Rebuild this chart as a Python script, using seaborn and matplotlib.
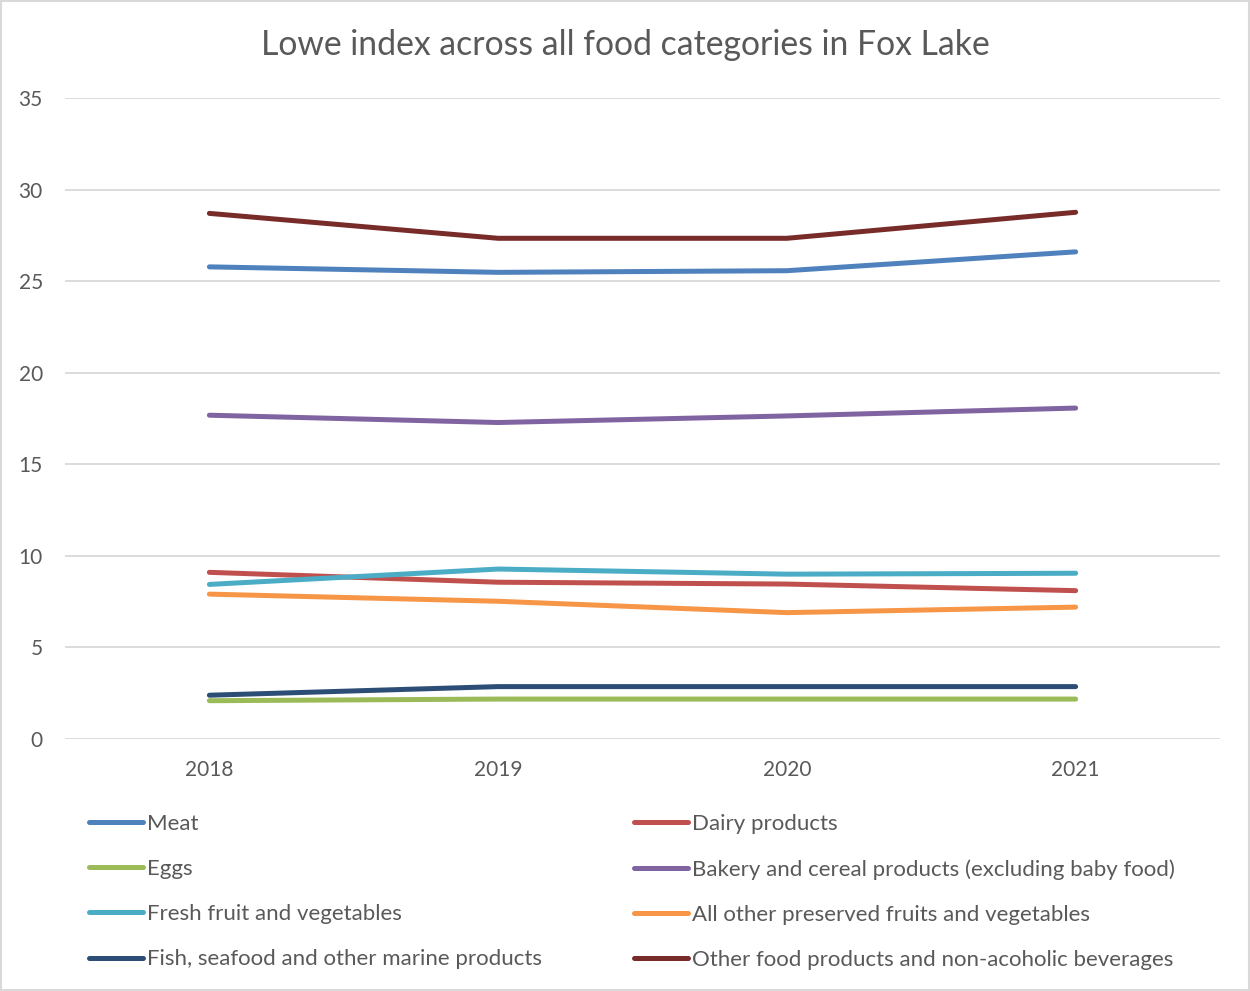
import matplotlib
matplotlib.use("Agg")
import matplotlib.pyplot as plt
from matplotlib.lines import Line2D
from matplotlib.patches import Rectangle
import seaborn as sns
import pandas as pd

years = ["2018", "2019", "2020", "2021"]
meat = [25.78, 25.48, 25.57, 26.60]
dairy = [9.10, 8.56, 8.46, 8.10]
eggs = [2.09, 2.18, 2.18, 2.18]
bakery = [17.68, 17.28, 17.64, 18.07]
fresh = [8.44, 9.28, 9.00, 9.05]
preserved = [7.91, 7.52, 6.90, 7.20]
fish = [2.39, 2.86, 2.86, 2.86]
other = [28.70, 27.34, 27.34, 28.76]

series_names = [
    "Meat", "Dairy products", "Eggs",
    "Bakery and cereal products (excluding baby food)",
    "Fresh fruit and vegetables", "All other preserved fruits and vegetables",
    "Fish, seafood and other marine products",
    "Other food products and non-acoholic beverages",
]
series_values = [meat, dairy, eggs, bakery, fresh, preserved, fish, other]
colors = ["#4F81BD", "#C0504D", "#9BBB59", "#8064A2",
          "#4BACC6", "#F79646", "#2C4D75", "#772C2A"]

rows = []
for name, vals in zip(series_names, series_values):
    for i, (yr, v) in enumerate(zip(years, vals)):
        rows.append({"series": name, "year": yr, "pos": i, "value": v})
df = pd.DataFrame(rows)

sns.set_theme(style="white")
plt.rcParams["font.family"] = ["Lato", "DejaVu Sans"]
text_color = "#595959"
grid_color = "#D9D9D9"
lw = 3.6

fig = plt.figure(figsize=(12.5, 9.91), dpi=100)
ax = fig.add_axes([0.052, 0.2543, 0.924, 0.6468])

sns.lineplot(data=df, x="pos", y="value", hue="series", hue_order=series_names,
             palette=colors, linewidth=lw, ax=ax, legend=False,
             solid_capstyle="round", sort=False)

ax.set_xlim(-0.5, 3.5)
ax.set_ylim(0, 35)
ax.set_yticks(range(0, 36, 5))
ax.set_xticks(range(len(years)))
ax.set_xticklabels(years)
ax.set_xlabel("")
ax.set_ylabel("")
for s in ax.spines.values():
    s.set_visible(False)
ax.yaxis.grid(True, color=grid_color, linewidth=1.3)
ax.xaxis.grid(False)
ax.set_axisbelow(True)
ax.tick_params(axis="both", length=0, labelsize=15, colors=text_color)
ax.tick_params(axis="y", pad=16)
ax.tick_params(axis="x", pad=15)

fig.text(0.5, 0.955, "Lowe index across all food categories in Fox Lake",
         ha="center", va="center", fontsize=24.3, color=text_color)

handles = [Line2D([0], [0], color=c, linewidth=lw, solid_capstyle="round") for c in colors]
col1 = [0, 2, 4, 6]
col2 = [1, 3, 5, 7]
leg_kw = dict(frameon=False, fontsize=16, handlelength=2.45, handletextpad=0.18,
              labelspacing=1.13, labelcolor=text_color, borderaxespad=0, borderpad=0)
leg1 = fig.legend([handles[i] for i in col1], [series_names[i] for i in col1],
                  loc="upper left", bbox_to_anchor=(0.0712, 0.1786), **leg_kw)
leg2 = fig.legend([handles[i] for i in col2], [series_names[i] for i in col2],
                  loc="upper left", bbox_to_anchor=(0.5068, 0.1786), **leg_kw)

fig.patches.append(Rectangle((0.001, 0.001), 0.998, 0.998, transform=fig.transFigure,
                             fill=False, edgecolor=grid_color, linewidth=1.5))

fig.savefig("out.png", dpi=100)
